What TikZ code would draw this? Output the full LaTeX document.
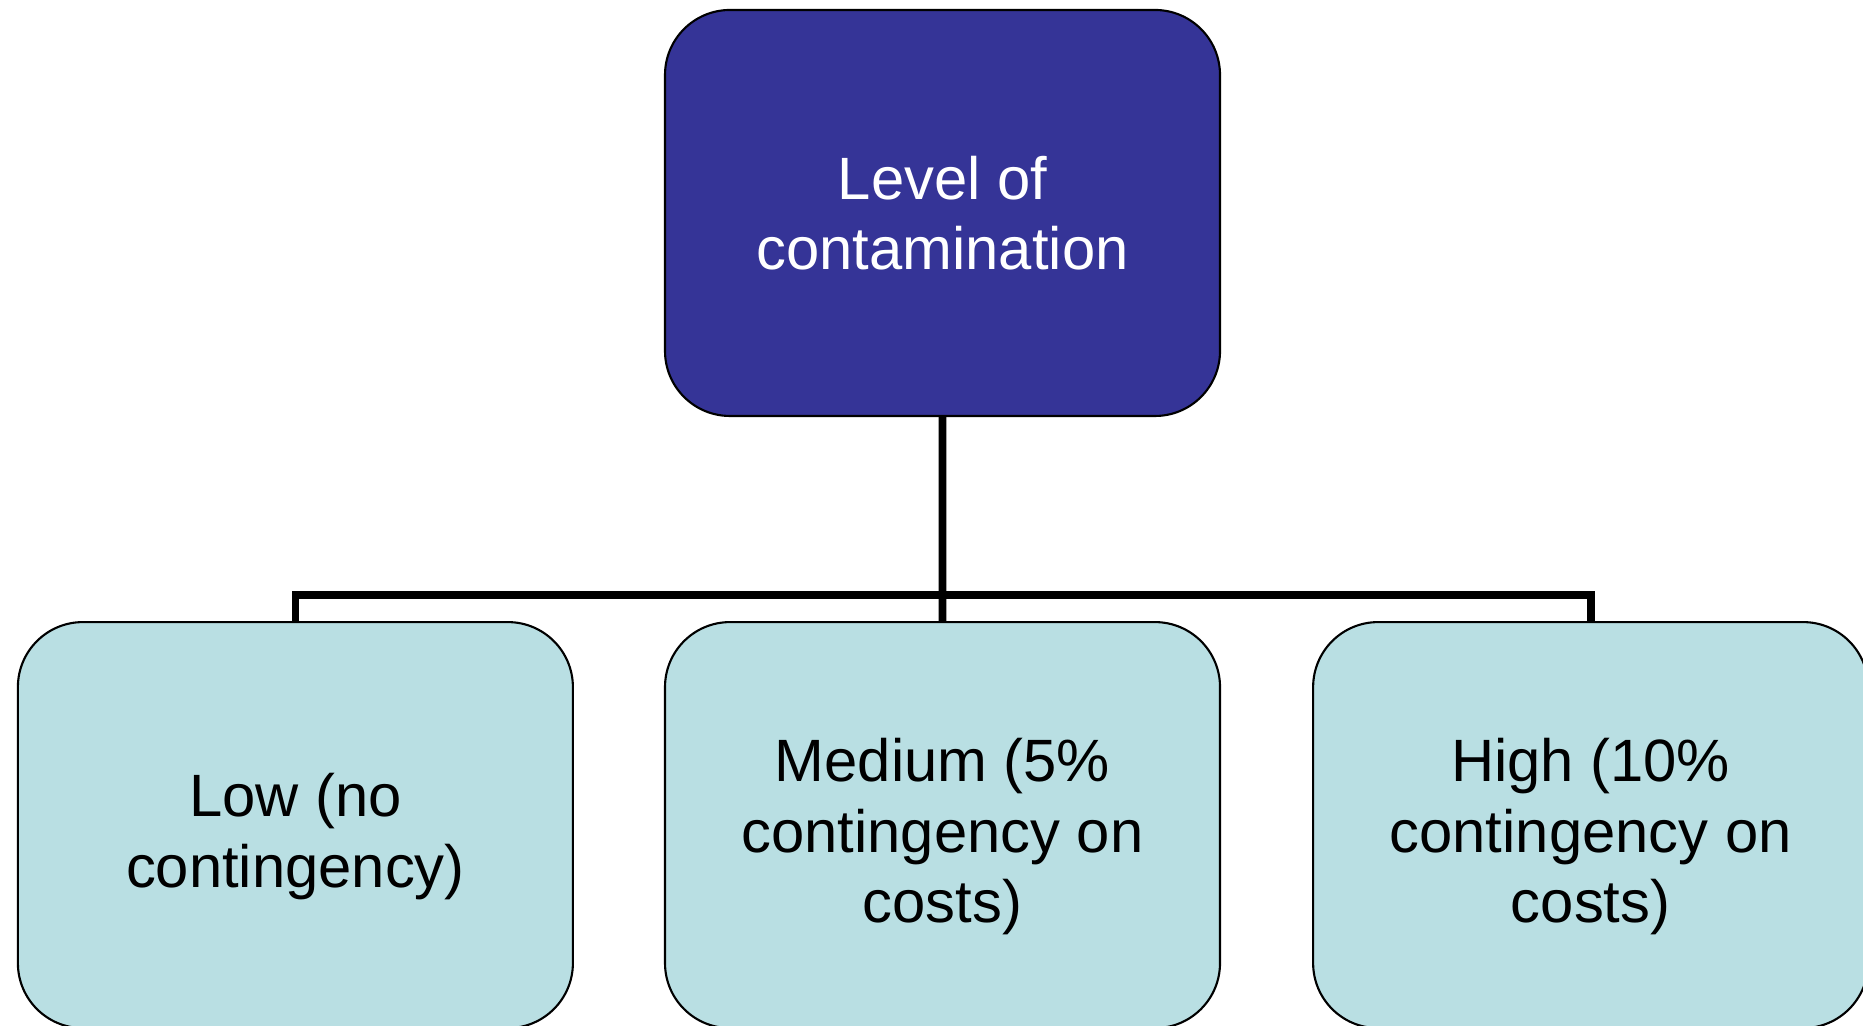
\documentclass[tikz,border=0pt]{standalone}
\usepackage{fontspec}
\setmainfont{Liberation Sans}
\usepackage{tikz}
\usetikzlibrary{positioning,calc}
\definecolor{topblue}{RGB}{53,52,151}
\definecolor{paleblue}{RGB}{185,223,227}

\begin{document}
\begin{tikzpicture}[levelbox/.style={rectangle, rounded corners=0.65cm, draw=black, line width=0.6pt,
			minimum width=5.55cm, minimum height=4.06cm, inner sep=0pt, align=center,
			font=\fontsize{17}{20.1}\selectfont},
		conn/.style={line width=2.2pt, black}]
			\useasboundingbox (0,0) rectangle (18.63,10.26);
			\clip (0,0) rectangle (18.63,10.26);
			\node [levelbox, fill=topblue, text=white] (level) at (9.425,8.13) {Level of\\contamination};
			
			\node [levelbox, fill=paleblue, below=2.04cm of level] (medium) {\rule{0pt}{19pt}Medium (5\%\\contingency on\\costs)};
			\node [levelbox, fill=paleblue, left=0.9cm of medium] (low) {\rule{0pt}{19pt}Low (no\\contingency)};
			\node [levelbox, fill=paleblue, right=0.91cm of medium] (high) {\rule{0pt}{19pt}High (10\%\\contingency on\\costs)};
			
			\coordinate (bar) at ($(level.south)!0.873!(medium.north)$);
			\draw [conn] (level.south) -- (bar);
			\draw [conn] (low.north) |- (bar) -| (high.north);
			\draw [conn] (bar) -- (medium.north);
		\end{tikzpicture}
\end{document}
